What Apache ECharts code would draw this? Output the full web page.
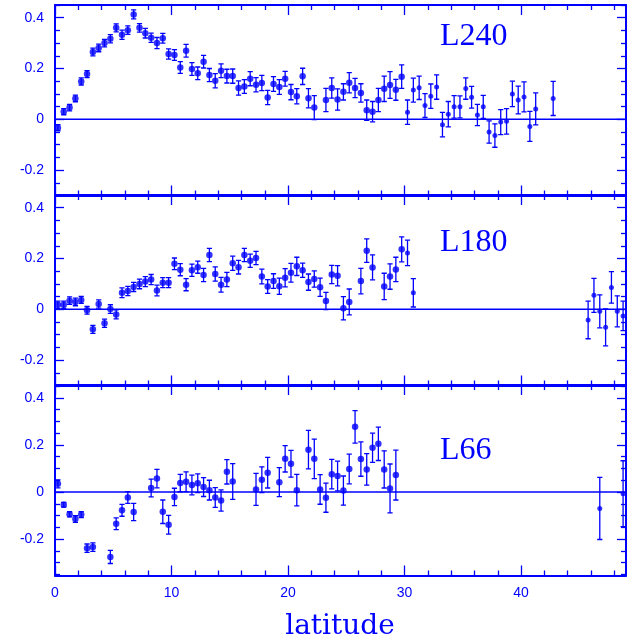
<!DOCTYPE html>
<html>
<head>
<meta charset="utf-8">
<script src="https://cdn.jsdelivr.net/npm/echarts@6/dist/echarts.min.js"></script>
<style>
  html, body { margin: 0; padding: 0; background: #ffffff; }
  #chart { width: 632px; height: 640px; }
</style>
</head>
<body>
<div id="chart"></div>
<script>
// ---- L240 ----
const latL240 = [0.25,0.75,1.25,1.75,2.25,2.75,3.25,3.75,4.25,4.75,5.25,5.75,6.25,6.75,7.25,7.75,8.25,8.75,9.25,9.75,
  10.25,10.75,11.25,11.75,12.25,12.75,13.25,13.75,14.25,14.75,15.25,15.75,16.25,16.75,17.25,17.75,18.25,18.75,19.25,19.75,
  20.25,20.75,21.25,21.75,22.25,23.25,23.75,24.25,24.75,25.25,25.75,26.25,26.75,27.25,27.75,28.25,28.75,29.25,29.75,
  30.25,30.75,31.25,31.75,32.25,32.75,33.25,33.75,34.25,34.75,35.25,35.75,36.25,36.75,37.25,37.75,38.25,38.75,39.25,39.75,
  40.25,40.75,41.25,42.75];
const valL240 = [-0.033,0.030,0.046,0.082,0.149,0.178,0.265,0.281,0.300,0.317,0.360,0.333,0.351,0.413,0.360,0.339,0.321,0.300,0.319,0.257,
  0.253,0.204,0.270,0.198,0.181,0.227,0.174,0.152,0.191,0.170,0.170,0.123,0.129,0.160,0.136,0.143,0.086,0.139,0.127,0.160,
  0.107,0.091,0.169,0.083,0.046,0.076,0.123,0.078,0.108,0.144,0.123,0.104,0.036,0.030,0.076,0.120,0.135,0.116,0.168,
  0.028,0.115,0.124,0.054,0.091,0.127,-0.021,0.020,0.049,0.049,0.121,0.087,0.017,0.049,-0.050,-0.064,-0.011,-0.008,0.100,0.076,
  0.088,-0.028,0.041,0.082];
const errL240 = [0.012,0.012,0.013,0.013,0.014,0.014,0.015,0.015,0.015,0.016,0.016,0.018,0.017,0.018,0.017,0.019,0.018,0.022,0.019,0.020,
  0.021,0.023,0.025,0.025,0.025,0.025,0.026,0.028,0.027,0.027,0.028,0.028,0.027,0.028,0.028,0.030,0.028,0.029,0.029,0.029,
  0.030,0.030,0.032,0.038,0.047,0.046,0.040,0.042,0.032,0.040,0.038,0.036,0.040,0.040,0.046,0.050,0.053,0.041,0.046,
  0.048,0.047,0.046,0.047,0.048,0.048,0.048,0.050,0.044,0.043,0.042,0.043,0.042,0.045,0.044,0.046,0.049,0.050,0.050,0.055,
  0.059,0.059,0.063,0.067];

// ---- L180 ----
const latL180 = [0.25,0.75,1.25,1.75,2.25,2.75,3.25,3.75,4.25,4.75,5.25,5.75,6.25,6.75,7.25,7.75,8.25,8.75,9.25,9.75,
  10.25,10.75,11.25,11.75,12.25,12.75,13.25,13.75,14.25,14.75,15.25,15.75,16.25,16.75,17.25,17.75,18.25,18.75,19.25,19.75,
  20.25,20.75,21.25,21.75,22.25,22.75,23.25,23.75,24.25,24.75,25.25,26.25,26.75,27.25,28.25,28.75,29.25,29.75,30.25,30.75,
  45.75,46.25,46.75,47.25,47.75,48.25,48.75];
const valL180 = [0.018,0.018,0.034,0.029,0.037,-0.004,-0.079,0.021,-0.055,0.001,-0.020,0.065,0.072,0.088,0.100,0.109,0.117,0.074,0.105,0.105,
  0.179,0.156,0.097,0.154,0.166,0.135,0.214,0.139,0.097,0.117,0.181,0.166,0.214,0.191,0.202,0.129,0.090,0.111,0.091,0.124,
  0.144,0.169,0.154,0.107,0.119,0.087,0.033,0.137,0.132,0.004,0.029,0.111,0.231,0.165,0.090,0.129,0.157,0.236,0.222,0.065,
  -0.042,0.055,-0.008,-0.071,0.086,-0.008,-0.026];
const errL180 = [0.014,0.014,0.015,0.015,0.014,0.015,0.016,0.016,0.016,0.017,0.018,0.019,0.018,0.018,0.019,0.020,0.020,0.021,0.020,0.020,
  0.023,0.024,0.024,0.024,0.024,0.026,0.026,0.028,0.029,0.028,0.028,0.027,0.026,0.026,0.026,0.029,0.027,0.029,0.032,0.036,
  0.037,0.036,0.028,0.032,0.032,0.036,0.034,0.036,0.040,0.046,0.051,0.050,0.046,0.049,0.052,0.050,0.048,0.049,0.050,0.056,
  0.074,0.067,0.065,0.073,0.062,0.061,0.058];

// ---- L66 ----
const latL66 = [0.25,0.75,1.25,1.75,2.25,2.75,3.25,4.75,5.25,5.75,6.25,6.75,8.25,8.75,9.25,9.75,
  10.25,10.75,11.25,11.75,12.25,12.75,13.25,13.75,14.25,14.75,15.25,17.25,17.75,18.25,19.25,19.75,
  20.25,20.75,21.75,22.25,22.75,23.25,23.75,24.25,24.75,25.25,25.75,26.25,26.75,27.25,27.75,28.25,28.75,29.25,
  46.75,48.75];
const valL66 = [0.035,-0.054,-0.095,-0.115,-0.096,-0.239,-0.234,-0.276,-0.135,-0.078,-0.023,-0.085,0.017,0.057,-0.084,-0.139,
  -0.021,0.038,0.044,0.030,0.037,0.021,0.008,-0.023,-0.036,0.086,0.045,0.011,0.052,0.082,0.042,0.141,
  0.120,0.008,0.180,0.141,0.011,-0.024,0.076,0.068,0.006,0.098,0.277,0.140,0.096,0.188,0.205,0.096,0.015,0.072,
  -0.070,-0.007];
const errL66 = [0.017,0.010,0.011,0.014,0.013,0.018,0.018,0.028,0.025,0.025,0.025,0.037,0.038,0.039,0.050,0.040,
  0.037,0.037,0.042,0.042,0.040,0.040,0.042,0.042,0.045,0.052,0.076,0.068,0.055,0.065,0.062,0.056,
  0.057,0.067,0.082,0.084,0.063,0.062,0.063,0.063,0.062,0.063,0.069,0.073,0.067,0.062,0.071,0.079,0.104,0.106,
  0.132,0.140];

// ---- axis ticks and labels ----
const xMajorTicks = [0, 10, 20, 30, 40];
const xMinorTicks = [2,4,6,8,12,14,16,18,22,24,26,28,32,34,36,38,42,44,46,48];
const yMajorTicks = [-0.2, 0, 0.2, 0.4];
const yMinorTicks = [-0.35,-0.3,-0.25,-0.15,-0.1,-0.05,0.05,0.1,0.15,0.25,0.3,0.35,0.45];
const panelNames = ['L240', 'L180', 'L66'];
const xTitle = 'latitude';
const xRange = [0, 49];

const BLUE = '#0000ff';
const panels = [
  { lat: latL240, val: valL240, err: errL240, yMin: -0.3,   yMax: 0.45,  top: 5,   name: panelNames[0], labelY: 38 },
  { lat: latL180, val: valL180, err: errL180, yMin: -0.3,   yMax: 0.45,  top: 195, name: panelNames[1], labelY: 244 },
  { lat: latL66,  val: valL66,  err: errL66,  yMin: -0.355, yMax: 0.455, top: 385, name: panelNames[2], labelY: 452 }
];

const grids = [], xAxes = [], yAxes = [], series = [], graphics = [];

function xAxisDef(g, pos, major, labels) {
  return {
    type: 'value', gridIndex: g, position: pos, min: xRange[0], max: xRange[1],
    splitLine: { show: false },
    axisLine: { show: major, onZero: false, lineStyle: { color: BLUE, width: 2 } },
    axisTick: { show: true, inside: true, length: major ? 10 : 5,
      customValues: major ? xMajorTicks : xMinorTicks,
      lineStyle: { color: BLUE, width: 1.3 } },
    axisLabel: labels ? {
      show: true, customValues: xMajorTicks, margin: 11,
      color: BLUE, fontFamily: 'Liberation Sans, Arial, sans-serif', fontSize: 14
    } : { show: false }
  };
}

function yAxisDef(g, pos, major, labels, p) {
  const minor = yMinorTicks.filter(v => v >= p.yMin - 1e-9 && v <= p.yMax + 1e-9);
  return {
    type: 'value', gridIndex: g, position: pos, min: p.yMin, max: p.yMax,
    splitLine: { show: false },
    axisLine: { show: major, onZero: false, lineStyle: { color: BLUE, width: 2 } },
    axisTick: { show: true, inside: true, length: major ? 9 : 5,
      customValues: major ? yMajorTicks : minor,
      lineStyle: { color: BLUE, width: 1.3 } },
    axisLabel: labels ? {
      show: true, customValues: yMajorTicks, margin: 11, padding: [3, 0, 0, 0],
      color: BLUE, fontFamily: 'Liberation Sans, Arial, sans-serif', fontSize: 14,
      formatter: v => (Math.abs(v) < 1e-9 ? '0' : Number(v).toFixed(1))
    } : { show: false }
  };
}

// vertical error bar with short caps at both ends
function renderErrorBar(params, api) {
  const x = api.value(0), y = api.value(1), e = api.value(2);
  const lo = api.coord([x, y - e]);
  const hi = api.coord([x, y + e]);
  const w = 2.6;
  const style = { stroke: BLUE, lineWidth: 1.3 };
  return {
    type: 'group',
    children: [
      { type: 'line', shape: { x1: lo[0], y1: lo[1], x2: hi[0], y2: hi[1] }, style },
      { type: 'line', shape: { x1: lo[0] - w, y1: lo[1], x2: lo[0] + w, y2: lo[1] }, style },
      { type: 'line', shape: { x1: hi[0] - w, y1: hi[1], x2: hi[0] + w, y2: hi[1] }, style }
    ]
  };
}

panels.forEach((p, g) => {
  grids.push({ left: 55, right: 6, top: p.top, height: 190.5 });
  const last = g === panels.length - 1;
  xAxes.push(xAxisDef(g, 'bottom', true, last));
  xAxes.push(xAxisDef(g, 'bottom', false, false));
  xAxes.push(xAxisDef(g, 'top', true, false));
  xAxes.push(xAxisDef(g, 'top', false, false));
  yAxes.push(yAxisDef(g, 'left', true, true, p));
  yAxes.push(yAxisDef(g, 'left', false, false, p));
  yAxes.push(yAxisDef(g, 'right', true, false, p));
  yAxes.push(yAxisDef(g, 'right', false, false, p));

  // zero reference line across the panel
  series.push({
    type: 'line', xAxisIndex: g * 4, yAxisIndex: g * 4,
    data: [[xRange[0], 0], [xRange[1], 0]],
    showSymbol: false, silent: true, z: 1,
    lineStyle: { color: BLUE, width: 1.5 }
  });

  const pts = p.lat.map((x, i) => [x, p.val[i], p.err[i]]);
  series.push({
    type: 'custom', xAxisIndex: g * 4, yAxisIndex: g * 4,
    data: pts, renderItem: renderErrorBar, clip: true, silent: true, z: 2
  });
  series.push({
    type: 'scatter', xAxisIndex: g * 4, yAxisIndex: g * 4,
    data: pts.map(d => [d[0], d[1]]),
    symbol: 'circle', symbolSize: d => (d[0] > 30 ? 5 : 6.5),
    itemStyle: { color: BLUE }, silent: true, z: 3
  });

  graphics.push({
    type: 'text', left: 440, top: p.labelY - 17,
    style: { text: p.name, fill: BLUE, font: 'normal 32px "Liberation Serif", serif' }
  });
});

graphics.push({
  type: 'text', x: 340, y: 627,
  style: { text: xTitle, fill: BLUE, font: 'normal 28px "DejaVu Serif", serif',
    textAlign: 'center', textVerticalAlign: 'middle' }
});

const chart = echarts.init(document.getElementById('chart'), null, { renderer: 'canvas' });
chart.setOption({
  backgroundColor: '#ffffff',
  animation: false,
  grid: grids,
  xAxis: xAxes,
  yAxis: yAxes,
  series: series,
  graphic: graphics
});
</script>
</body>
</html>
